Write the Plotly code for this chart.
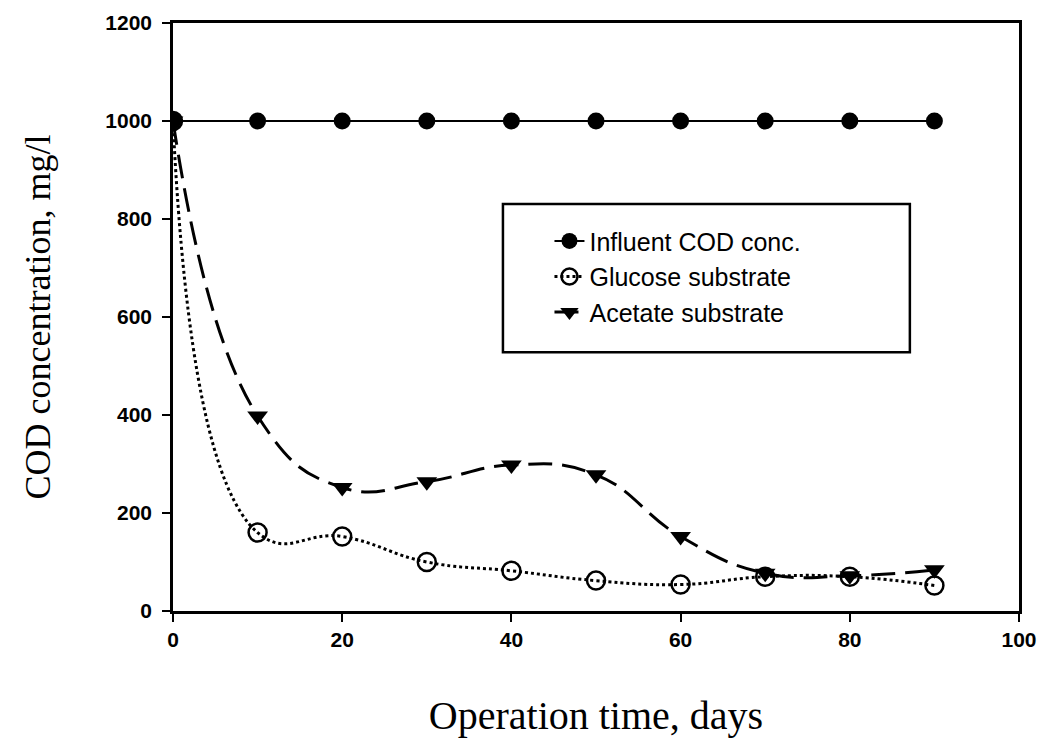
import plotly.graph_objects as go

days = [0, 10, 20, 30, 40, 50, 60, 70, 80, 90]
influent = [1000, 1000, 1000, 1000, 1000, 1000, 1000, 1000, 1000, 1000]
glucose = [1000, 160, 152, 100, 82, 62, 54, 70, 70, 52]
acetate = [1000, 398, 252, 264, 298, 278, 152, 77, 72, 84]

fig = go.Figure()
fig.add_trace(go.Scatter(
    x=days, y=influent, name="Influent COD conc.", mode="lines+markers",
    line=dict(color="black", width=2, shape="spline"),
    marker=dict(symbol="circle", size=17, color="black")))
fig.add_trace(go.Scatter(
    x=days, y=glucose, name="Glucose substrate", mode="lines+markers",
    line=dict(color="black", width=3, dash="dot", shape="spline", smoothing=1.3),
    marker=dict(symbol="circle-open", size=18, color="black", line=dict(width=2.5))))
fig.add_trace(go.Scatter(
    x=days, y=acetate, name="Acetate substrate", mode="lines+markers",
    line=dict(color="black", width=3, dash="24px,10px", shape="spline", smoothing=1.3),
    marker=dict(symbol="triangle-down", size=18, color="black")))

fig.add_shape(type="rect", xref="paper", yref="paper",
              x0=0.39, x1=0.871, y0=0.44, y1=0.692,
              line=dict(color="black", width=2.5), fillcolor="white", layer="below")

fig.update_layout(
    width=1061, height=740,
    margin=dict(l=173, r=42, t=23, b=129),
    paper_bgcolor="white", plot_bgcolor="white",
    font=dict(family="Liberation Sans, Arial", color="black"),
    showlegend=True,
    legend=dict(x=0.445, y=0.668, xanchor="left", yanchor="top",
                borderwidth=0, bgcolor="rgba(0,0,0,0)",
                font=dict(size=25, family="Liberation Sans, Arial"),
                tracegroupgap=0),
)
fig.update_xaxes(
    range=[0, 100], tickvals=[0, 20, 40, 60, 80, 100],
    ticks="outside", ticklen=8, tickwidth=2, tickcolor="black",
    showline=True, linecolor="black", linewidth=2.5, mirror=True,
    showgrid=False, zeroline=False, automargin=False,
    tickfont=dict(size=21, family="Liberation Sans, Arial", weight="bold"),
    title=dict(text="Operation time, days", font=dict(size=40, family="Liberation Serif, Times New Roman"), standoff=52))
fig.update_yaxes(
    range=[0, 1200], tickvals=[0, 200, 400, 600, 800, 1000, 1200],
    ticks="outside", ticklen=8, tickwidth=2, tickcolor="black",
    showline=True, linecolor="black", linewidth=2.5, mirror=True,
    showgrid=False, zeroline=False, ticklabelstandoff=6, automargin=False,
    tickfont=dict(size=21, family="Liberation Sans, Arial", weight="bold"),
    title=dict(text="COD concentration, mg/l", font=dict(size=36, family="Liberation Serif, Times New Roman"), standoff=44))

fig.write_html("out.html")
